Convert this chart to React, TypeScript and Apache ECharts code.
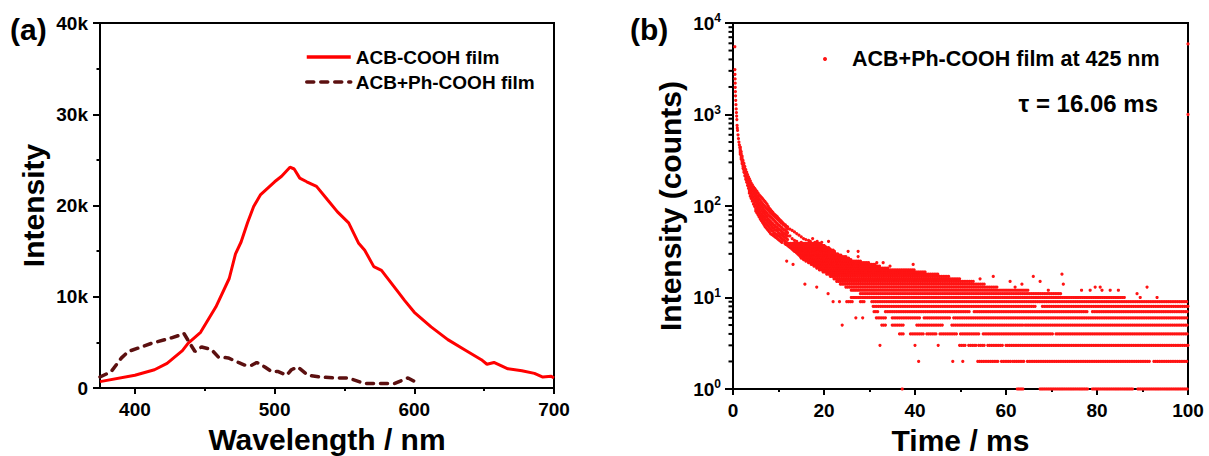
import React, { useEffect, useRef } from "react";
import * as echarts from "echarts";

// ---------- Panel (a): steady-state PL spectra ----------
const acbWavelength = [375, 400, 414, 423, 434, 438, 447, 458, 467.5, 472, 476, 480.6, 485, 490, 500, 505, 511, 514, 518, 523, 530, 538, 545, 553, 560, 564.5, 571, 576.5, 588.5, 593, 600, 612, 624, 636, 648, 652, 657, 667, 677, 686, 692, 698, 700];
const acbIntensity = [700, 1400, 2000, 2700, 4100, 4900, 6100, 8900, 12000, 14700, 16000, 18100, 19900, 21200, 22600, 23200, 24200, 24000, 23000, 22600, 22100, 20600, 19300, 18100, 15900, 15100, 13300, 12900, 10500, 9600, 8300, 6700, 5300, 4200, 3100, 2600, 2800, 2100, 1900, 1600, 1200, 1300, 1100];

const phWavelength = [375, 383, 390.4, 395.2, 404.7, 411.9, 421.5, 426.2, 432.2, 435, 439.3, 443, 447.7, 454.9, 459.7, 466.8, 474, 478.8, 483.6, 487.2, 493, 497.8, 502.6, 508.6, 512, 516.6, 523.8, 533.3, 543, 552.5, 564.4, 576.4, 586, 595.5, 602.7];
const phIntensity = [1200, 1800, 3300, 4000, 4500, 4900, 5300, 5500, 5800, 6000, 4900, 4000, 4500, 4200, 3400, 3300, 2800, 2500, 2500, 2800, 2300, 1800, 1800, 1400, 2000, 2300, 1400, 1200, 1100, 1100, 500, 500, 500, 1100, 500];

const wavelengthTicks = [400, 500, 600, 700];
const wavelengthMinorTicks = [450, 550, 650];

// ---------- Panel (b): decay (log counts) ----------
const headTimes = [0.4, 0.42, 0.44, 0.46, 0.48, 0.5, 0.53, 0.56, 0.6, 0.65, 0.7, 0.75, 0.8, 0.85, 0.9, 0.95, 1.0, 1.1, 1.2, 1.3, 1.4, 1.5];
const headCounts = [5500, 3100, 2750, 2450, 2200, 1980, 1780, 1600, 1430, 1280, 1150, 1050, 960, 880, 760, 710, 670, 600, 545, 500, 465, 435];

const bandTimes = [1.6, 1.8, 2.0, 2.2, 2.4, 2.6, 2.8, 3.0, 3.2, 3.4, 3.6, 3.8, 4.0, 4.25, 4.5, 4.75, 5.0, 5.25, 5.5, 5.75, 6.0, 6.25, 6.5, 6.75, 7.0, 7.25, 7.5, 7.75, 8.0, 8.25, 8.5, 8.75, 9.0, 9.25, 9.5, 9.75, 10.0, 10.25, 10.5, 10.75, 11.0, 11.25, 11.5, 11.75, 12.0];
const bandCounts = [
  [440, 418, 400, 385, 368], [392, 372, 356, 340, 326], [350, 334, 318, 304, 290], [316, 300, 286, 272, 258],
  [292, 276, 262, 248, 234], [270, 254, 240, 228, 214], [250, 236, 222, 210, 196], [234, 220, 206, 194, 182],
  [220, 206, 193, 180, 168], [208, 194, 180, 168, 156], [198, 184, 170, 158, 146, 138], [188, 174, 161, 150, 139, 128],
  [178, 165, 153, 142, 131, 121], [170, 156, 145, 134, 123, 113], [162, 149, 137, 126, 116, 105], [156, 142, 130, 119, 109, 99],
  [150, 136, 124, 113, 103, 93, 88], [144, 130, 118, 108, 98, 90, 84], [138, 125, 113, 103, 94, 86, 80], [132, 120, 108, 99, 90, 82, 76],
  [128, 115, 104, 95, 86, 78, 72], [124, 110, 100, 91, 82, 75, 69], [120, 106, 96, 87, 79, 72, 66], [116, 102, 92, 84, 76, 69, 63],
  [112, 99, 89, 81, 73, 66, 60], [108, 96, 86, 78, 70, 64, 58], [104, 93, 83, 75, 68, 62, 56], [99, 90, 80, 72, 66, 60, 54],
  [94, 87, 78, 70, 64, 58, 52], [91, 84, 76, 68, 62, 56, 50], [88, 82, 74, 66, 60, 54, 49], [85, 80, 72, 64, 58, 53, 48],
  [82, 78, 70, 62, 57, 51, 47], [80, 76, 68, 61, 55, 50, 46], [78, 74, 66, 59, 54, 49, 45], [76, 72, 64, 58, 53, 48, 44],
  [73, 70, 62, 56, 51, 47, 43], [71, 68, 61, 55, 50, 46, 42], [69, 66, 59, 54, 49, 45, 41], [67, 65, 58, 52, 48, 44, 40],
  [65, 63, 56, 51, 47, 43], [63, 62, 55, 50, 46, 42], [62, 60, 54, 49, 45, 41], [60, 58, 52, 48, 44, 40],
  [59, 56, 51, 47, 43],
];

// integer count levels and the time runs (ms) where each level is populated
const countLevels = [1, 2, 3, 4, 5, 6, 7, 8, 9, 10, 11, 12, 13, 14, 15, 16, 17, 18, 19, 20, 21, 22, 23, 24, 25, 26, 27, 28, 29, 30, 31, 32, 33, 34, 35, 36, 37, 38, 39];
const levelRuns = [
  [[37.2, 37.2], [62.5, 64], [67.5, 78], [79, 88], [89, 100]],
  [[40.8, 40.8], [48.3, 48.6], [50.5, 50.8], [53.8, 58.5], [59, 61], [61.5, 64], [64.7, 91.8], [92.5, 100]],
  [[32.3, 32.3], [40, 40], [45.1, 45.1], [49.8, 51.2], [51.8, 53.5], [54, 55.3], [56, 59.3], [60, 100]],
  [[36.6, 37.7], [39, 41.8], [42.6, 44.8], [45.5, 49.2], [50, 54], [55, 70.4], [71, 100]],
  [[24, 24], [32.7, 33.5], [35, 37.4], [40.4, 46.2], [48.1, 63.8], [64.2, 100]],
  [[27, 27], [28.5, 28.5], [31.5, 33.5], [35, 41], [42, 47.8], [48.5, 100]],
  [[31, 32], [33.5, 52], [53, 78], [79, 100]],
  [[30.8, 66.5], [68, 100]],
  [[22, 22], [23.4, 23.4], [25, 26.5], [28, 29], [30.5, 100]],
  [[26, 86], [89.5, 89.5], [93.2, 93.2]],
  [[20.9, 20.9], [28, 72], [88.8, 88.8]],
  [[26, 65], [69.3, 69.3], [76.6, 76.6], [78.5, 78.5], [81.1, 81.1], [82.9, 82.9], [84.7, 84.7]],
  [[18.4, 18.4], [24.8, 58], [62, 62], [79.6, 79.6], [80.7, 80.7], [91, 91]],
  [[15.8, 15.8], [23.6, 55.5], [63.5, 63.5], [72.6, 72.6]],
  [[22.8, 53], [60.9, 60.9], [67.5, 67.5]],
  [[22.2, 50], [54.3, 54.3]],
  [[21.4, 47.5], [57.2, 57.2], [66, 66]],
  [[20.6, 45], [72.3, 72.3]],
  [[19.8, 42.5]],
  [[19, 40]],
  [[18.4, 34]],
  [[17.8, 32.5], [34.5, 34.5]],
  [[13.2, 13.2], [17.2, 31.5], [39.6, 39.6]],
  [[16.6, 30], [31.6, 31.6], [33, 33]],
  [[11.8, 11.8], [16, 28]],
  [[15.5, 26]],
  [[15, 25.5]],
  [[14.8, 24.8], [27.5, 27.5]],
  [[14.5, 24]],
  [[14.2, 23]],
  [[13.9, 22.6]],
  [[13.5, 22.3], [25.3, 25.3], [27.5, 27.5]],
  [[13.2, 22]],
  [[12.9, 21.5]],
  [[12.6, 21]],
  [[12.3, 20.5]],
  [[12, 20]],
  [[11.6, 19.5]],
  [[11.4, 19]],
];
const channelStep = 0.4; // ms between detector channels as drawn

const extraTimes = [12.5, 12.5, 13.0, 13.0, 13.5, 13.5, 14.0, 14.0, 14.5, 15.0, 15.0, 15.5, 16.0, 16.6, 17.0, 17.5, 18.0, 18.5, 19.5, 21.0, 100, 100];
const extraCounts = [56, 47, 54, 44, 52, 42, 50, 41, 48, 46, 40, 44, 43, 42, 41, 44, 40, 41, 40, 41, 5900, 1000];

const timeMinorTicks = [2, 3, 4, 5, 6, 7, 8, 9, 20, 30, 40, 50, 60, 70, 80, 90, 200, 300, 400, 500, 600, 700, 800, 900, 2000, 3000, 4000, 5000, 6000, 7000, 8000, 9000];

const FONT = "'Liberation Sans', Arial, Helvetica, sans-serif";

function buildDecay(): number[][] {
  const pts: number[][] = [];
  headTimes.forEach((t, i) => pts.push([t, headCounts[i]]));
  bandTimes.forEach((t, i) => bandCounts[i].forEach((c) => pts.push([t, c])));
  countLevels.forEach((c, i) => {
    levelRuns[i].forEach(([t0, t1]) => {
      for (let t = t0; t <= t1 + 1e-6; t += channelStep) pts.push([+t.toFixed(2), c]);
    });
  });
  extraTimes.forEach((t, i) => pts.push([t, extraCounts[i]]));
  return pts;
}

export default function App() {
  const ref = useRef<HTMLDivElement>(null);
  useEffect(() => {
    if (!ref.current) return;
    const chart = echarts.init(ref.current, undefined, { renderer: "svg" });
    const black = "#000";
    const tickLabel = { fontSize: 19, fontWeight: "bold", color: black, fontFamily: FONT };
    const axisLine = { show: true, onZero: false, lineStyle: { color: black, width: 2 } };
    const nameStyle = { fontSize: 30, fontWeight: "bold", color: black, fontFamily: FONT, lineHeight: 30 };

    const option: any = {
      animation: false,
      backgroundColor: "#fff",
      textStyle: { fontFamily: FONT },
      grid: [
        { left: 100, top: 23, width: 454, height: 365, outerBoundsMode: "none", containLabel: false, show: true, borderColor: black, borderWidth: 2, backgroundColor: "transparent" },
        { left: 733, top: 23, width: 455, height: 366, outerBoundsMode: "none", containLabel: false, show: true, borderColor: black, borderWidth: 2, backgroundColor: "transparent" },
      ],
      legend: [
        {
          data: ["ACB-COOH film", "ACB+Ph-COOH film"],
          orient: "vertical",
          left: 300,
          top: 41,
          itemWidth: 44,
          itemHeight: 22,
          itemGap: 3,
          selectedMode: false,
          itemStyle: { opacity: 0 },
          lineStyle: { width: 3.5 },
          textStyle: { fontSize: 19, fontWeight: "bold", color: black, fontFamily: FONT, lineHeight: 22 },
        },
        {
          data: [{ name: "ACB+Ph-COOH film at 425 nm", icon: "circle" }],
          left: 818,
          top: 43,
          itemWidth: 44,
          itemHeight: 4,
          selectedMode: false,
          textStyle: { fontSize: 21.5, fontWeight: "bold", color: black, fontFamily: FONT },
        },
      ],
      xAxis: [
        {
          type: "value", gridIndex: 0, min: 375, max: 700, position: "bottom",
          axisLine,
          axisTick: { show: true, customValues: wavelengthTicks, length: 6, lineStyle: { color: black, width: 2 } },
          axisLabel: { customValues: wavelengthTicks, margin: 12, ...tickLabel },
          splitLine: { show: false },
          name: "Wavelength / nm", nameLocation: "middle", nameGap: 36, nameTextStyle: nameStyle,
        },
        {
          type: "value", gridIndex: 0, min: 375, max: 700, position: "bottom",
          axisLine: { show: false },
          axisTick: { show: true, customValues: wavelengthMinorTicks, length: 3, lineStyle: { color: black, width: 2 } },
          axisLabel: { show: false },
          splitLine: { show: false },
        },
        {
          type: "value", gridIndex: 1, min: 0, max: 100, interval: 20, position: "bottom",
          axisLine,
          axisTick: { show: true, length: 6, lineStyle: { color: black, width: 2 } },
          minorTick: { show: true, splitNumber: 2, length: 3, lineStyle: { color: black, width: 2 } },
          axisLabel: { margin: 12, showMinLabel: true, showMaxLabel: true, ...tickLabel },
          splitLine: { show: false },
          minorSplitLine: { show: false },
          name: "Time / ms", nameLocation: "middle", nameGap: 36, nameTextStyle: nameStyle,
        },
      ],
      yAxis: [
        {
          type: "value", gridIndex: 0, min: 0, max: 40000, interval: 10000,
          axisLine,
          axisTick: { show: true, length: 7, lineStyle: { color: black, width: 2 } },
          minorTick: { show: true, splitNumber: 2, length: 3.5, lineStyle: { color: black, width: 2 } },
          axisLabel: {
            margin: 12, showMinLabel: true, showMaxLabel: true, ...tickLabel,
            formatter: (v: number) => (v === 0 ? "0" : v / 1000 + "k"),
          },
          splitLine: { show: false },
          minorSplitLine: { show: false },
          name: "Intensity", nameLocation: "middle", nameGap: 52, nameTextStyle: nameStyle,
        },
        {
          type: "log", gridIndex: 1, min: 1, max: 10000, logBase: 10,
          axisLine,
          axisTick: { show: true, length: 8, lineStyle: { color: black, width: 2 } },
          axisLabel: {
            margin: 12, showMinLabel: true, showMaxLabel: true,
            formatter: (v: number) => `{b|10}{s|${Math.round(Math.log10(v))}}`,
            rich: {
              b: { fontSize: 19, fontWeight: "bold", color: black, fontFamily: FONT, lineHeight: 22 },
              s: { fontSize: 12, fontWeight: "bold", color: black, fontFamily: FONT, lineHeight: 22, padding: [0, 0, 10, 0] },
            },
          },
          splitLine: { show: false },
          name: "Intensity (counts)", nameLocation: "middle", nameGap: 48, nameTextStyle: nameStyle,
        },
      ],
      series: [
        {
          name: "ACB-COOH film", type: "line", xAxisIndex: 0, yAxisIndex: 0,
          data: acbWavelength.map((w, i) => [w, acbIntensity[i]]),
          symbol: "none", showSymbol: false, color: "#ff0000",
          lineStyle: { color: "#ff0000", width: 3 },
        },
        {
          name: "ACB+Ph-COOH film", type: "line", xAxisIndex: 0, yAxisIndex: 0,
          data: phWavelength.map((w, i) => [w, phIntensity[i]]),
          symbol: "none", showSymbol: false, color: "#5c1010",
          lineStyle: { color: "#5c1010", width: 3.5, type: [7, 7], cap: "round" },
        },
        {
          name: "ACB+Ph-COOH film at 425 nm", type: "scatter", xAxisIndex: 2, yAxisIndex: 1,
          data: buildDecay(), symbol: "circle", symbolSize: 3.2, color: "#ff1414",
          itemStyle: { color: "#ff1414", opacity: 1 }, silent: true,
        },
        {
          name: "minorLogTicks", type: "custom", xAxisIndex: 2, yAxisIndex: 1, silent: true, clip: false,
          data: timeMinorTicks.map((v) => [0, v]),
          renderItem: (_p: any, api: any) => {
            const p = api.coord([api.value(0), api.value(1)]);
            return { type: "line", shape: { x1: p[0] - 4.5, y1: p[1], x2: p[0], y2: p[1] }, style: { stroke: black, lineWidth: 2 } };
          },
        },
      ],
      graphic: [
        { type: "text", left: 10, top: 14, style: { text: "(a)", font: `bold 30px ${FONT}`, fill: black } },
        { type: "text", left: 630, top: 14, style: { text: "(b)", font: `bold 30px ${FONT}`, fill: black } },
        { type: "text", x: 1158, y: 103, style: { text: "τ = 16.06 ms", font: `bold 24px ${FONT}`, fill: black, textAlign: "right", textVerticalAlign: "middle" } },
      ],
    };
    chart.setOption(option);
    return () => chart.dispose();
  }, []);
  return <div ref={ref} style={{ position: "fixed", left: 0, top: 0, width: 1209, height: 456, background: "#fff" }} />;
}
